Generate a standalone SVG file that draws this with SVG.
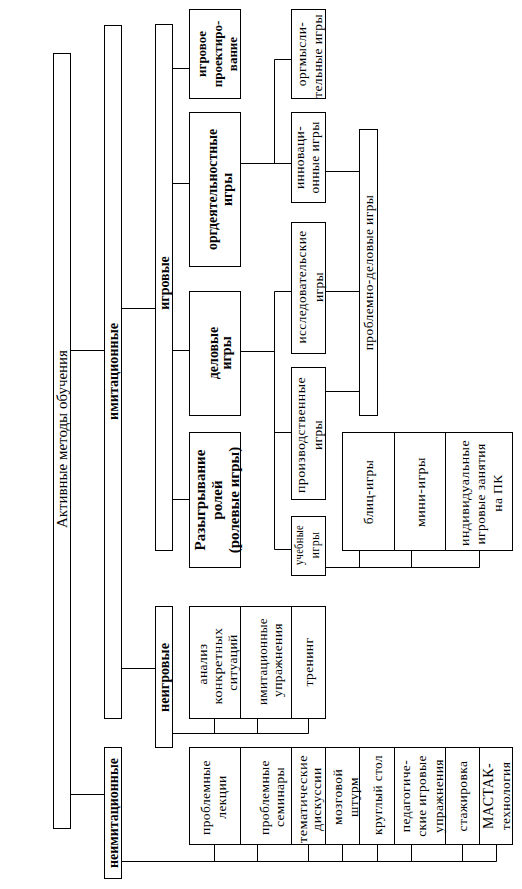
<svg xmlns="http://www.w3.org/2000/svg" width="522" height="889" viewBox="0 0 522 889">
<style>
rect{fill:#fff;stroke:#000;stroke-width:1}
.c path{fill:none;stroke:#000;stroke-width:1}
text{fill:#000;text-anchor:middle;dominant-baseline:central}
.b{font-family:"Liberation Serif",serif;font-weight:bold;font-size:14px}
.r{font-family:"Liberation Serif",serif;font-size:15px}
.m{font-family:"Liberation Serif",serif;font-size:13.5px;letter-spacing:0.4px}
.d{fill:none;stroke:#000;stroke-width:1}
</style>
<rect width="522" height="889" style="stroke:none"/>
<g class="c" id="connectors">
<path d="M70.5 350.5H104.5M70.5 794.5H104.5"/>
<path d="M121.5 308.5H155.5M121.5 668.5H155.5"/>
<path d="M172.5 68.5H189.5M172.5 183.5H189.5M172.5 350.5H189.5M172.5 499.5H189.5"/>
<path d="M240.5 163.5H291.5M274.5 59.5V163.5M274.5 59.5H291.5"/>
<path d="M325.5 171.5H359.5M325.5 291.5H359.5M325.5 391.5H359.5"/>
<path d="M240.5 351.5H274.5M274.5 291.5V549.5M274.5 291.5H291.5M274.5 432.5H291.5M274.5 549.5H291.5"/>
<path d="M325.5 567.5H479.5M359.5 550.5V567.5M411.5 550.5V567.5M479.5 550.5V567.5"/>
<path d="M172.5 733.5H308.5M214.5 718.5V733.5M257.5 718.5V733.5M308.5 718.5V733.5"/>
<path d="M121.5 861.5H496.5M214.5 844.5V861.5M257.5 844.5V861.5M308.5 844.5V861.5M342.5 844.5V861.5M377.5 844.5V861.5M411.5 844.5V861.5M462.5 844.5V861.5M496.5 844.5V861.5"/>
</g>
<g id="root">
<rect x="53.5" y="53.5" width="17" height="775"/>
<text class="r" transform="translate(62,439) rotate(-90)" textLength="178" lengthAdjust="spacingAndGlyphs">Активные методы обучения</text>
</g>
<g id="imit">
<rect x="104.5" y="25.5" width="17" height="693"/>
<text class="b" transform="translate(113,371.5) rotate(-90)" textLength="97" lengthAdjust="spacingAndGlyphs">имитационные</text>
</g>
<g id="neimit">
<rect x="104.5" y="747.5" width="17" height="131"/>
<text class="b" transform="translate(113,813) rotate(-90)" textLength="110" lengthAdjust="spacingAndGlyphs">неимитационные</text>
</g>
<g id="igr">
<rect x="155.5" y="24.5" width="17" height="526"/>
<text class="b" transform="translate(164,283) rotate(-90)">игровые</text>
</g>
<g id="neigr">
<rect x="155.5" y="606.5" width="17" height="141"/>
<text class="b" transform="translate(164,677.5) rotate(-90)" textLength="69" lengthAdjust="spacingAndGlyphs">неигровые</text>
</g>
<g id="proekt">
<rect x="189.5" y="9.5" width="51" height="89"/>
<text class="b" style="font-size:13px" transform="translate(201,54) rotate(-90)">игровое</text>
<text class="b" style="font-size:13px" transform="translate(217,54) rotate(-90)">проектиро-</text>
<text class="b" style="font-size:13px" transform="translate(232,54) rotate(-90)">вание</text>
</g>
<g id="orgdeyat">
<rect x="189.5" y="112.5" width="51" height="154"/>
<text class="b" transform="translate(212,189.5) rotate(-90)" textLength="121" lengthAdjust="spacingAndGlyphs">оргдеятельностные</text>
<text class="b" transform="translate(227,189.5) rotate(-90)">игры</text>
</g>
<g id="delovye">
<rect x="189.5" y="291.5" width="51" height="124"/>
<text class="b" transform="translate(213,353) rotate(-90)">деловые</text>
<text class="b" transform="translate(226,353) rotate(-90)">игры</text>
</g>
<g id="rol">
<rect x="189.5" y="432.5" width="51" height="135"/>
<text class="b" style="font-size:15px" transform="translate(200,500) rotate(-90)">Разыгрывание</text>
<text class="b" style="font-size:15px" transform="translate(217,500) rotate(-90)">ролей</text>
<text class="b" style="font-size:15px" transform="translate(234,500) rotate(-90)">(ролевые игры)</text>
</g>
<g id="orgmysl">
<rect x="291.5" y="9.5" width="34" height="89"/>
<text class="m" transform="translate(301,54) rotate(-90)">оргмысли-</text>
<text class="m" transform="translate(317,56) rotate(-90)">тельные игры</text>
</g>
<g id="innov">
<rect x="291.5" y="112.5" width="34" height="90"/>
<text class="m" transform="translate(299.5,157.5) rotate(-90)">инноваци-</text>
<text class="m" transform="translate(314,157.5) rotate(-90)">онные игры</text>
</g>
<g id="issled">
<rect x="291.5" y="222.5" width="34" height="131"/>
<text class="m" transform="translate(301.5,287) rotate(-90)" textLength="113" lengthAdjust="spacingAndGlyphs">исследовательские</text>
<text class="m" transform="translate(318,287) rotate(-90)">игры</text>
</g>
<g id="proizv">
<rect x="291.5" y="367.5" width="34" height="132"/>
<text class="m" transform="translate(300,435) rotate(-90)" textLength="116" lengthAdjust="spacingAndGlyphs">производственные</text>
<text class="m" transform="translate(317,435) rotate(-90)">игры</text>
</g>
<g id="uchebn">
<rect x="291.5" y="516.5" width="34" height="59"/>
<text class="m" style="font-size:12px" transform="translate(299,545) rotate(-90)" textLength="40" lengthAdjust="spacingAndGlyphs">учебные</text>
<text class="m" style="font-size:12px" transform="translate(314.5,545) rotate(-90)">игры</text>
</g>
<g id="probdel">
<rect x="359.5" y="129.5" width="18" height="286"/>
<text class="m" transform="translate(368.5,272.5) rotate(-90)">проблемно-деловые игры</text>
</g>
<g id="uch-children">
<rect x="342.5" y="432.5" width="170" height="118"/>
<path class="d" d="M394.5 432.5V550.5M445.5 432.5V550.5"/>
<text class="m" transform="translate(368,492) rotate(-90)">блиц-игры</text>
<text class="m" transform="translate(420,492) rotate(-90)" textLength="70" lengthAdjust="spacingAndGlyphs">мини-игры</text>
<text class="m" transform="translate(464,493) rotate(-90)" textLength="106" lengthAdjust="spacingAndGlyphs">индивидуальные</text>
<text class="m" transform="translate(480,494) rotate(-90)">игровые занятия</text>
<text class="m" transform="translate(497,493) rotate(-90)">на ПК</text>
</g>
<g id="neigr-children">
<rect x="189.5" y="606.5" width="136" height="112"/>
<path class="d" d="M240.5 606.5V718.5M291.5 606.5V718.5"/>
<text class="m" transform="translate(202,664) rotate(-90)">анализ</text>
<text class="m" transform="translate(217,666) rotate(-90)" textLength="77" lengthAdjust="spacingAndGlyphs">конкретных</text>
<text class="m" transform="translate(232,662.5) rotate(-90)">ситуаций</text>
<text class="m" transform="translate(262.5,661.5) rotate(-90)" textLength="87" lengthAdjust="spacingAndGlyphs">имитационные</text>
<text class="m" transform="translate(277,660) rotate(-90)">упражнения</text>
<text class="m" transform="translate(308.5,662) rotate(-90)">тренинг</text>
</g>
<g id="neimit-children">
<rect x="189.5" y="747.5" width="323" height="97"/>
<path class="d" d="M240.5 747.5V844.5M291.5 747.5V844.5M325.5 747.5V844.5M359.5 747.5V844.5M394.5 747.5V844.5M445.5 747.5V844.5M479.5 747.5V844.5"/>
<text class="m" transform="translate(205,797.5) rotate(-90)" textLength="75" lengthAdjust="spacingAndGlyphs">проблемные</text>
<text class="m" transform="translate(221,797) rotate(-90)">лекции</text>
<text class="m" transform="translate(264,797.5) rotate(-90)" textLength="75" lengthAdjust="spacingAndGlyphs">проблемные</text>
<text class="m" transform="translate(279,797) rotate(-90)">семинары</text>
<text class="m" transform="translate(302,799) rotate(-90)" textLength="88" lengthAdjust="spacingAndGlyphs">тематические</text>
<text class="m" transform="translate(316,799) rotate(-90)">дискуссии</text>
<text class="m" transform="translate(337,797) rotate(-90)">мозговой</text>
<text class="m" transform="translate(353,797) rotate(-90)">штурм</text>
<text class="m" transform="translate(377,795) rotate(-90)" textLength="80" lengthAdjust="spacingAndGlyphs">круглый стол</text>
<text class="m" transform="translate(405,796) rotate(-90)">педагогиче-</text>
<text class="m" transform="translate(421.5,796) rotate(-90)">ские игровые</text>
<text class="m" transform="translate(438,796) rotate(-90)">упражнения</text>
<text class="m" transform="translate(462,796) rotate(-90)">стажировка</text>
<text class="m" style="font-size:14px" transform="translate(488,796) rotate(-90)">МАСТАК-</text>
<text class="m" transform="translate(505,796) rotate(-90)">технология</text>
</g>
</svg>
